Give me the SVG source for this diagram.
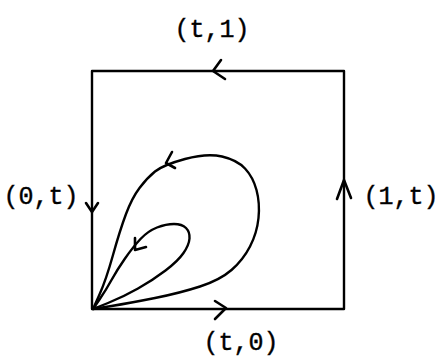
<svg xmlns="http://www.w3.org/2000/svg" width="441" height="360" viewBox="0 0 441 360">
<style>
.ln{fill:none;stroke:#000;stroke-width:2.4;stroke-linecap:round;stroke-linejoin:round}
.ar{fill:none;stroke:#000;stroke-width:2.6;stroke-linecap:round;stroke-linejoin:round}
.lb{font-family:"Liberation Mono","Courier New",monospace;font-size:25px;fill:#000;stroke:#000;stroke-width:0.4;text-anchor:middle}
</style>
<rect width="441" height="360" fill="#fff"/>
<g id="connectors">
<path class="ln" d="M92,71 H344 V309 H92 Z"/>
<path class="ln" d="M93,309 L111.5,306 Q130,303 155,298 Q180,293 200,286.5 Q220,280 231.5,270 Q243,260 250,246.5 Q257,233 258.5,218 Q260,203 256.5,190 Q253,177 245,168.5 Q237,160 222,156.5 Q207,153 185,159 Q163,165 155,171.5 Q147,178 139.5,188 Q132,198 126,214 Q120,230 113,255 Q106,280 99.5,294.5 L93,309"/>
<path class="ln" d="M93,309 L108,303 Q123,297 138,288.5 Q153,280 165.5,270.5 Q178,261 183.5,253 Q189,245 189.5,238.5 Q190,232 186,228 Q182,224 174,224 Q166,224 157,227.5 Q148,231 140.5,239 Q133,247 125,258.5 Q117,270 111.5,280 Q106,290 99.5,299.5 L93,309"/>
<path class="ar" d="M221,60 L213,71 L225,79"/>
<path class="ar" d="M86,203 L92,212 L98,203"/>
<path class="ar" d="M337,199 L344,180 L351,198"/>
<path class="ar" d="M215,301 L226,308 L215,319"/>
<path class="ar" d="M172,152 L166,163 L175,168"/>
<path class="ar" d="M135,238 L135,250 L146,247"/>
</g>
<g id="label-top"><text class="lb" x="212" y="37">(t,1)</text></g>
<g id="label-left"><text class="lb" x="41" y="204">(0,t)</text></g>
<g id="label-right"><text class="lb" x="401" y="204">(1,t)</text></g>
<g id="label-bottom"><text class="lb" x="241" y="350">(t,0)</text></g>
</svg>
